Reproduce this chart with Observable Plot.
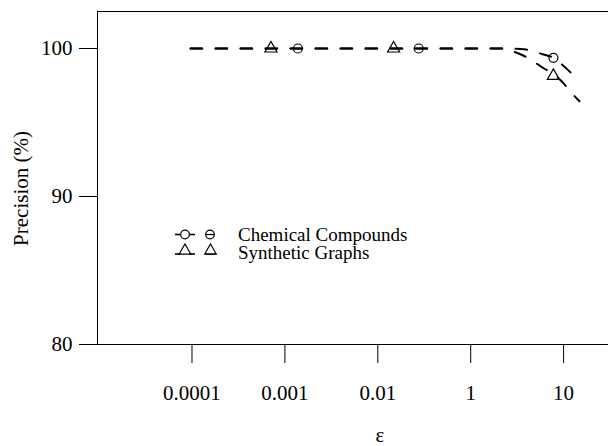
<!DOCTYPE html>
<html>
<head>
<meta charset="utf-8">
<script src="https://cdn.jsdelivr.net/npm/d3@7"></script>
<script src="https://cdn.jsdelivr.net/npm/@observablehq/plot@0.6"></script>
<style>
  html, body { margin: 0; padding: 0; background: #fff; }
  #chart svg { display: block; }
</style>
</head>
<body>
<div id="chart"></div>
<script>
// ---- data ----
const xTickPos = [0, 1, 2, 3, 4];
const xTickLabels = ["0.0001", "0.001", "0.01", "1", "10"];
const yTicks = [80, 90, 100];

// curve points (x in tick-index units)
const chemX = [-0.016, 3.31, 3.54, 3.77, 3.89, 4.00, 4.16];
const chemY = [100, 100, 99.97, 99.62, 99.37, 98.82, 97.84];
const synX = [-0.016, 3.37, 3.45, 3.57, 3.68, 3.79, 3.89, 4.00, 4.07, 4.17];
const synY = [100, 100, 99.82, 99.51, 99.10, 98.65, 98.28, 97.64, 97.11, 96.44];

// marker points
const chemMarkX = [1.14, 2.44, 3.89];
const chemMarkY = [100, 100, 99.37];
const synMarkX = [0.85, 2.17, 3.89];
const synMarkY = [100, 100, 98.15];

const seriesNames = ["Chemical Compounds", "Synthetic Graphs"];
const xLabel = "ε";
const yLabel = "Precision (%)";

// ---- build tables ----
const chemLine = chemX.map((x, i) => ({x, y: chemY[i]}));
const synLine = synX.map((x, i) => ({x, y: synY[i]}));
const chemMarks = chemMarkX.map((x, i) => ({x, y: chemMarkY[i]}));
const synMarks = synMarkX.map((x, i) => ({x, y: synMarkY[i]}));

const font = "'Liberation Serif', 'Times New Roman', serif";
const dash = "11.7,13.3";
const xDomain = [-1.017, 4.483];
const yDomain = [80, 102.5];

const plot = Plot.plot({
  width: 608,
  height: 446,
  marginLeft: 97,
  marginRight: 0,
  marginTop: 11,
  marginBottom: 102,
  style: {fontFamily: font, fontSize: "21px", background: "#fff", color: "#000"},
  x: {type: "linear", domain: xDomain},
  y: {type: "linear", domain: yDomain},
  marks: [
    Plot.ruleY([yDomain[1]], {stroke: "#000", strokeWidth: 1}),
    Plot.ruleY([yDomain[0]], {stroke: "#000", strokeWidth: 1}),
    Plot.ruleX([xDomain[0]], {stroke: "#000", strokeWidth: 1}),
    Plot.axisY({ticks: yTicks, tickSize: 18, tickPadding: 7, label: null, stroke: "#000", fontSize: 21}),
    Plot.axisX({ticks: xTickPos, tickFormat: (d) => xTickLabels[d], tickSize: 19, tickPadding: 22, label: null, stroke: "#000", fontSize: 21}),
    Plot.line(chemLine, {x: "x", y: "y", curve: "monotone-x", stroke: "#000", strokeWidth: 2, strokeDasharray: dash}),
    Plot.line(synLine, {x: "x", y: "y", curve: "monotone-x", stroke: "#000", strokeWidth: 2, strokeDasharray: dash}),
    Plot.dot(chemMarks, {x: "x", y: "y", symbol: "circle", r: 4.5, stroke: "#000", fill: "none", strokeWidth: 1.2}),
    Plot.dot(synMarks, {x: "x", y: "y", symbol: "triangle", r: 4.5, stroke: "#000", fill: "none", strokeWidth: 1.2}),
    Plot.text([yLabel], {frameAnchor: "left", textAnchor: "middle", lineAnchor: "middle", rotate: -90, dx: -76.5, dy: 10.5, fontSize: 21, fill: "#000"}),
    Plot.text([xLabel], {x: [xTickPos[2]], frameAnchor: "bottom", textAnchor: "middle", lineAnchor: "middle", dx: 2, dy: 91, fontSize: 21, fill: "#000"})
  ]
});

document.getElementById("chart").appendChild(plot);

// ---- legend (drawn into the same svg) ----
const svg = d3.select(plot);
const lg = svg.append("g").attr("stroke", "#000").attr("fill", "none");
const rows = [{y: 234.5, sym: "circle", ty: 241}, {y: 254, sym: "triangle", ty: 259}];
rows.forEach((r, i) => {
  const g = lg.append("g");
  g.append("line").attr("x1", 175).attr("x2", 180.5).attr("y1", r.y).attr("y2", r.y).attr("stroke-width", 1.6);
  g.append("line").attr("x1", 189.5).attr("x2", 195).attr("y1", r.y).attr("y2", r.y).attr("stroke-width", 1.6);
  if (r.sym === "circle") {
    g.append("circle").attr("cx", 185).attr("cy", r.y).attr("r", 4.3).attr("stroke-width", 1.2);
    g.append("circle").attr("cx", 210).attr("cy", r.y).attr("r", 4.3).attr("stroke-width", 1.2);
    g.append("line").attr("x1", 205.7).attr("x2", 214.3).attr("y1", r.y).attr("y2", r.y).attr("stroke-width", 1.2);
  } else {
    const tri = d3.symbol(d3.symbolTriangle, Math.PI * 4.3 * 4.3);
    g.append("path").attr("d", tri()).attr("transform", `translate(185,${r.y - 3.3})`).attr("stroke-width", 1.2);
    g.append("path").attr("d", tri()).attr("transform", `translate(210.5,${r.y - 3.3})`).attr("stroke-width", 1.2);
    g.append("line").attr("x1", 205.5).attr("x2", 215.5).attr("y1", r.y).attr("y2", r.y).attr("stroke-width", 1.2);
  }
  svg.append("text")
    .attr("x", 238).attr("y", r.ty)
    .attr("text-anchor", "start")
    .attr("font-family", font).attr("font-size", "19px").attr("fill", "#000")
    .text(seriesNames[i]);
});
</script>
</body>
</html>
